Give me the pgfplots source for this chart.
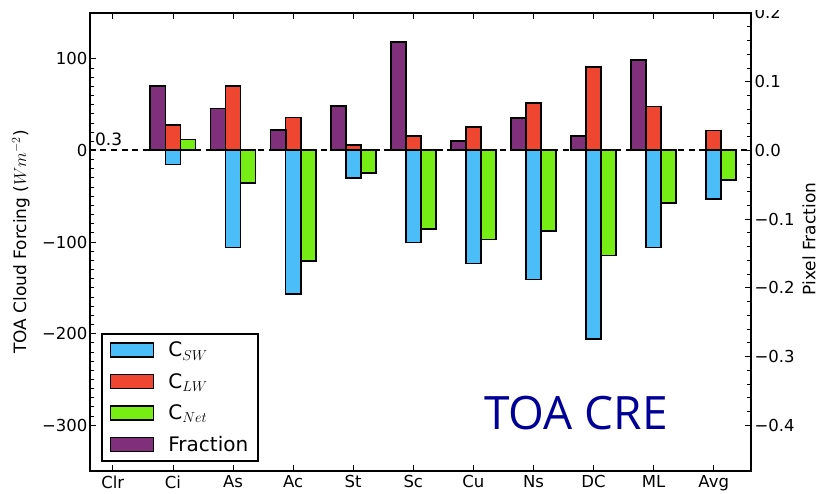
\documentclass[border=0pt]{standalone}
\usepackage{pgfplots}
\pgfplotsset{compat=1.18}
\usetikzlibrary{calc}
\usepackage{fontspec}
\setmainfont{DejaVu Sans}
\newfontfamily\titlefont{Open Sans}
\definecolor{cSW}{HTML}{4BBEF9}
\definecolor{cLW}{HTML}{EE4630}
\definecolor{cNet}{HTML}{76EE16}
\definecolor{cFr}{HTML}{80307A}
\definecolor{navy}{RGB}{0,0,150}
\begin{document}
\begin{tikzpicture}
\pgfplotsset{
  common/.style={
    scale only axis, width=661pt, height=458pt,
    xmin=-0.38, xmax=10.62,
    axis line style={line width=2pt},
    tick style={black, line width=0.8pt},
    major tick length=6pt, minor tick length=4.5pt,
    tick align=inside,
    tick label style={font=\fontsize{16.5}{18}\selectfont},
  },
  barleg/.style={legend image code/.code={\draw[##1, draw=black, line width=1.8pt] (0pt,-7pt) rectangle (43pt,7pt);}},
}
\begin{axis}[common,
  ymin=-350, ymax=150,
  ytick={-300,-200,-100,0,100},
  yticklabels={−300,−200,−100,0,100},
  minor y tick num=9,
  ytick pos=left,
  xtick={0,1,2,3,4,5,6,7,8,9,10},
  xticklabels={Clr,Ci,As,Ac,St,Sc,Cu,Ns,DC,ML,Avg},
  xtick pos=both, xticklabel pos=lower,
  yticklabel style={xshift=1pt},
  xticklabel style={yshift=-1pt},
  legend style={at={(rel axis cs:0.0162,0.0203)}, anchor=south west,
    draw=black, line width=1.8pt, font=\fontsize{20}{22}\selectfont,
    row sep=11pt, column sep=12pt, inner xsep=8pt, inner ysep=6pt, cells={anchor=west}},
  legend cell align=left,
]
\coordinate (SW) at (rel axis cs:0,0);
\coordinate (NE) at (rel axis cs:1,1);
\coordinate (LM) at (rel axis cs:0,0.5);
\coordinate (RM) at (rel axis cs:1,0.5);
\addplot[black, line width=2pt, dash pattern=on 6pt off 4.5pt, forget plot] coordinates {(-0.38,0) (10.62,0)};
\addplot[ybar, bar width=0.25, bar shift=0pt, fill=cSW, draw=black, line width=1.8pt, barleg] coordinates {
(1,-15.3) (2,-106) (3,-157.2) (4,-30.2) (5,-100.5) (6,-123.5) (7,-140.9) (8,-205.5) (9,-106) (10,-53.4)};
\addlegendentry{C$_{SW}$}
\addplot[ybar, bar width=0.25, bar shift=0pt, fill=cLW, draw=black, line width=1.8pt, barleg] coordinates {
(1,28) (2,70.5) (3,36) (4,5.8) (5,15.3) (6,25.4) (7,51.5) (8,90.7) (9,47.9) (10,21.8)};
\addlegendentry{C$_{LW}$}
\addplot[ybar, bar width=0.25, bar shift=0pt, fill=cNet, draw=black, line width=1.8pt, barleg] coordinates {
(1.25,12) (2.25,-35.2) (3.25,-121) (4.25,-24.3) (5.25,-86) (6.25,-97.3) (7.25,-87.9) (8.25,-114.7) (9.25,-57) (10.25,-32.7)};
\addlegendentry{C$_{Net}$}
\addlegendimage{ybar, fill=cFr, draw=black, line width=1.8pt, barleg}
\addlegendentry{Fraction}
\node[anchor=base west, font=\fontsize{17}{19}\selectfont, inner sep=0pt] at (axis cs:-0.297,5.4) {0.3};
\node[anchor=base west, font=\titlefont\fontsize{46}{50}\selectfont, text=navy, inner sep=0pt] at (axis cs:6.177,-305) {TOA CRE};
\end{axis}
\begin{axis}[common,
  ymin=-0.466667, ymax=0.2,
  axis y line*=right, axis x line=none,
  ytick={-0.4,-0.3,-0.2,-0.1,0,0.1,0.2},
  yticklabels={−0.4,−0.3,−0.2,−0.1,0.0,0.1,0.2},
  minor y tick num=4,
]
\addplot[ybar, bar width=0.25, bar shift=0pt, fill=cFr, draw=black, line width=1.8pt] coordinates {
(0.75,0.0934) (1.75,0.0609) (2.75,0.0297) (3.75,0.0652) (4.75,0.158) (5.75,0.0141) (6.75,0.0467) (7.75,0.0214) (8.75,0.131)};
\end{axis}
\fill[white] ([shift={(3pt,3pt)}]NE) rectangle ([shift={(70pt,20pt)}]NE);
\node[rotate=90, font=\fontsize{17}{19}\selectfont] at ([xshift=-69pt]LM) {TOA Cloud Forcing ($Wm^{-2}$)};
\node[rotate=90, font=\fontsize{17}{19}\selectfont] at ([xshift=58pt,yshift=3pt]RM) {Pixel Fraction};
\pgfresetboundingbox
\path ([shift={(-90pt,-23pt)}]SW) rectangle ([shift={(70pt,13pt)}]NE);
\end{tikzpicture}
\end{document}
